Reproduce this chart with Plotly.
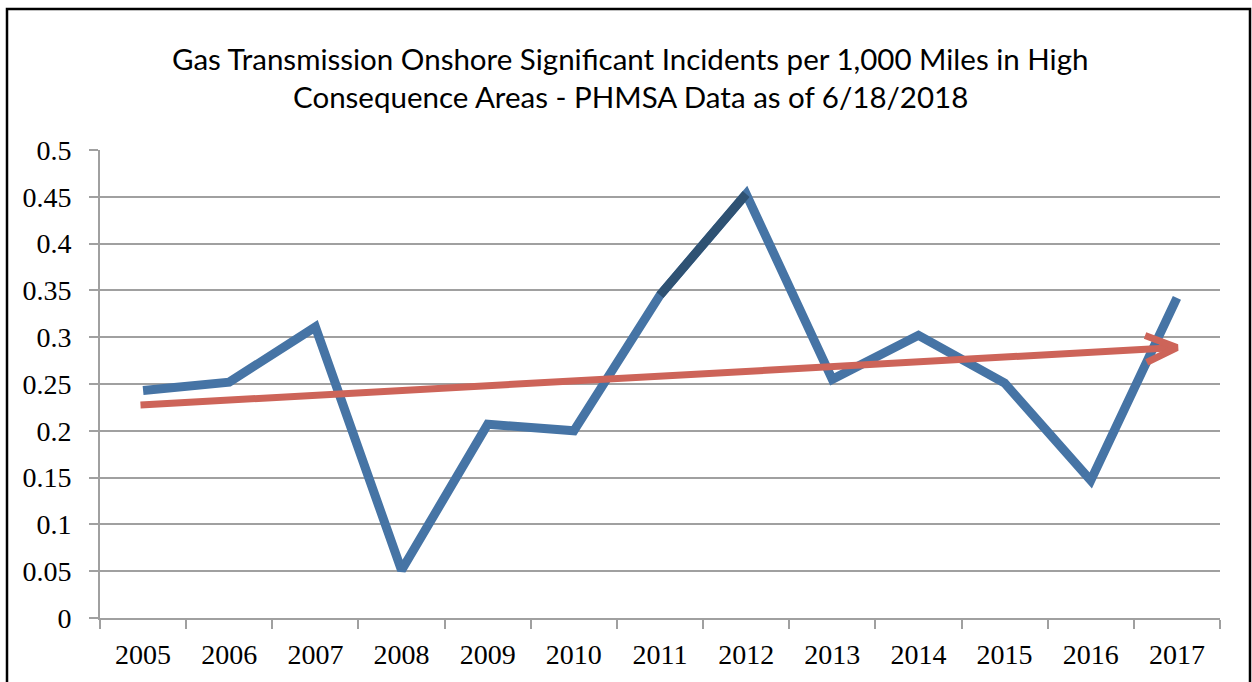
import plotly.graph_objects as go

years = [2005, 2006, 2007, 2008, 2009, 2010, 2011, 2012, 2013, 2014, 2015, 2016, 2017]
incidents = [0.243, 0.252, 0.311, 0.051, 0.207, 0.200, 0.345, 0.453, 0.255, 0.302, 0.251, 0.147, 0.342]
trend_x = [2004.97, 2017.0]
trend_y = [0.2276, 0.289]
title_lines = ["Gas Transmission Onshore Significant Incidents per 1,000 Miles in High",
               "Consequence Areas - PHMSA Data as of 6/18/2018"]
y_ticks = [0, 0.05, 0.1, 0.15, 0.2, 0.25, 0.3, 0.35, 0.4, 0.45, 0.5]

BLUE = "#4674A5"
DARK = "#2F5273"
RED = "#CD6459"
TICKFONT = dict(family="Liberation Serif", size=28, color="black")

fig = go.Figure()
fig.add_trace(go.Scatter(x=years, y=incidents, mode="lines",
                         line=dict(color=BLUE, width=9), hoverinfo="skip"))
# darker highlighted segment 2011-2012
fig.add_trace(go.Scatter(x=years[6:8], y=incidents[6:8], mode="lines",
                         line=dict(color=DARK, width=9), hoverinfo="skip"))
fig.add_trace(go.Scatter(x=trend_x, y=trend_y, mode="lines",
                         line=dict(color=RED, width=7), hoverinfo="skip"))
# chevron arrow head at end of the trend line
tx, ty = trend_x[-1], trend_y[-1]
fig.add_trace(go.Scatter(x=[tx - 0.37, tx, tx - 0.35], y=[ty + 0.0128, ty, ty - 0.016],
                         mode="lines", line=dict(color=RED, width=7), hoverinfo="skip"))

L, R, T, B = 100, 32, 150, 64
W, H = 1252, 682
pw, ph = W - L - R, H - T - B

fig.update_layout(
    width=W, height=H, margin=dict(l=L, r=R, t=T, b=B, autoexpand=False),
    paper_bgcolor="white", plot_bgcolor="white", showlegend=False,
    font=dict(family="Liberation Serif", color="black", size=28),
)
fig.update_xaxes(range=[2004.5, 2017.5], tickvals=years, ticktext=[str(y) for y in years],
                 ticks="", showgrid=False, showline=True, linecolor="#A0A0A0", linewidth=2,
                 zeroline=False, ticklabelstandoff=10, tickfont=TICKFONT, automargin=False,
                 minor=dict(tick0=2004.5, dtick=1, ticks="outside", ticklen=9,
                            tickcolor="#A0A0A0", tickwidth=2, showgrid=False))
fig.update_yaxes(range=[0, 0.5], tickvals=y_ticks, ticktext=[f"{v:g}" for v in y_ticks],
                 ticks="outside", ticklen=9, tickcolor="#A0A0A0", tickwidth=2,
                 ticklabelstandoff=12, tickfont=TICKFONT, automargin=False,
                 showgrid=True, gridcolor="#A0A0A0", gridwidth=2,
                 showline=True, linecolor="#A0A0A0", linewidth=2, zeroline=False)

for i, line in enumerate(title_lines):
    ycen = [58, 97][i]
    fig.add_annotation(text=line, xref="paper", yref="paper",
                       x=(630 - L) / pw, y=(H - B - ycen) / ph, xanchor="center", yanchor="middle",
                       showarrow=False, font=dict(family="Lato", size=29.5, color="black"))

fig.add_shape(type="rect", xref="paper", yref="paper",
              x0=(7 - L) / pw, x1=(1250 - L) / pw, y0=(H - B - 700) / ph, y1=(H - B - 9) / ph,
              line=dict(color="black", width=2.5), fillcolor="rgba(0,0,0,0)", layer="above")

fig.write_html("out.html", config={"displayModeBar": False},
               post_script="document.body.style.margin='0';document.body.style.overflow='hidden';")
